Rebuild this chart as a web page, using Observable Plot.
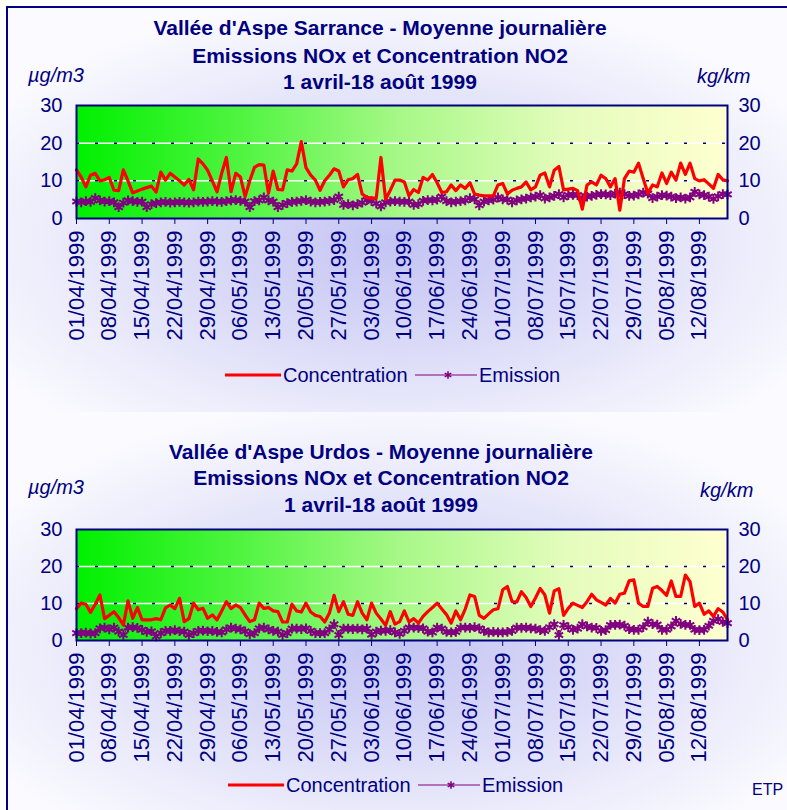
<!DOCTYPE html>
<html><head><meta charset="utf-8">
<script src="https://cdn.jsdelivr.net/npm/d3@7"></script>
<script src="https://cdn.jsdelivr.net/npm/@observablehq/plot@0.6"></script>
<style>
body{margin:0;background:#fff;}
#page{position:relative;width:787px;height:810px;overflow:hidden;font-family:"Liberation Sans",Arial,sans-serif;color:#000080;background:#fff;}
.bg{position:absolute;left:7px;width:780px;}
.frame{position:absolute;left:6px;top:6px;width:800px;height:820px;border-left:2px solid #000080;border-top:2px solid #000080;box-sizing:border-box;}
.plotwrap{position:absolute;left:0;width:787px;}
.t{position:absolute;white-space:nowrap;transform:translate(-50%,-50%);}
.title{font-weight:bold;font-size:21px;}
.unit{font-style:italic;font-size:20px;transform:translate(0,-50%);}
.leg{font-size:20px;transform:translate(0,-50%);}
</style></head>
<body>
<svg width="0" height="0" style="position:absolute">
  <defs>
    <linearGradient id="plotGrad" x1="0" x2="1" y1="0" y2="0">
      <stop offset="0" stop-color="#00f000"/>
      <stop offset="0.25" stop-color="#50f440"/>
      <stop offset="0.5" stop-color="#a8f888"/>
      <stop offset="0.75" stop-color="#e4fcbc"/>
      <stop offset="1" stop-color="#ffffd0"/>
    </linearGradient>
  </defs>
</svg>
<div id="page">
  <div class="bg" style="top:7px;height:405px;background:radial-gradient(ellipse 62% 62% at 50% 58%, #c4c4f4 0%, #d6d6f7 35%, #ebebfb 70%, #fbfbff 100%);"></div>
  <div class="bg" style="top:412px;height:398px;background:radial-gradient(ellipse 62% 62% at 50% 58%, #c4c4f4 0%, #d6d6f7 35%, #ebebfb 70%, #fbfbff 100%);"></div>
  <div class="frame"></div>
  <div id="top" class="plotwrap" style="top:0px"></div>
  <div id="bottom" class="plotwrap" style="top:410px"></div>
</div>
<script>
// ---- data ----
const firstDay = "01/04/1999";
const dayCount = 140;
const tickLabels = ["01/04/1999","08/04/1999","15/04/1999","22/04/1999","29/04/1999","06/05/1999","13/05/1999",
  "20/05/1999","27/05/1999","03/06/1999","10/06/1999","17/06/1999","24/06/1999","01/07/1999","08/07/1999",
  "15/07/1999","22/07/1999","29/07/1999","05/08/1999","12/08/1999"];
const yTicks = [0, 10, 20, 30];
const gridValues = [10, 20];

const topTitle = ["Vallée d'Aspe Sarrance - Moyenne journalière", "Emissions NOx et Concentration NO2", "1 avril-18 août 1999"];
const bottomTitle = ["Vallée d'Aspe Urdos - Moyenne journalière", "Emissions NOx et Concentration NO2", "1 avril-18 août 1999"];
const leftUnit = "µg/m3";
const rightUnit = "kg/km";
const seriesNames = ["Concentration", "Emission"];

// Sarrance
const topConcentration = [
 12.9,11,8.4,11.5,12,10,10.3,10.9,7.5,7.4,
 12.9,10,6.8,7.3,7.8,8.2,8.6,7,12.3,10.2,
 12,11,10,8.9,10.4,7.6,15.8,14.5,12.8,10,
 7.1,12,16.2,7.1,12,11,5.8,10,13.6,14.3,
 14.2,6.7,12.6,7.7,7.6,12.9,12.6,14.5,20.4,13.5,
 11.5,10.2,7.5,10,11.5,13.2,12.6,8.4,10.3,10.6,
 11.7,6.5,5.6,5.4,5.4,16.2,5.1,7.5,10.2,10.2,
 9.7,6,7.7,6.9,10.9,10.2,11.7,9.5,6.9,7.1,
 8.9,7.4,8.9,8,9.5,6.5,6.2,6,6,6,
 8.9,9.3,6.5,7.5,8,8.4,9.7,7.6,8.4,11.5,
 12.1,8.4,12.8,13.8,7.6,7.8,8,7.4,2.5,8.9,
 9.7,8.9,11.5,10.6,8.4,10.6,2.2,10.6,12.6,12.3,
 14.7,10.6,6.7,8.9,8.4,12.1,9.3,12.3,10.2,14.7,
 11.7,14.7,10.6,10,10.3,9.2,8,11.7,10.3,10];
const topEmission = [
 4.5,4.3,4.6,4.4,5.4,4.8,4.5,4.6,4.3,3.0,
 4.2,4.8,4.6,4.4,4.5,3.0,3.8,4.1,4.3,4.4,
 4.2,4.3,4.4,4.3,4.2,4.3,4.5,4.4,4.5,4.6,
 4.5,4.4,4.6,4.8,4.9,4.7,4.5,3.0,4.6,4.8,
 5.6,4.8,4.5,3.0,3.6,4.1,4.4,4.5,4.7,4.9,
 4.5,4.3,4.4,4.5,4.7,4.9,5.8,3.6,3.8,3.5,
 3.8,4.2,4.9,4.6,4.0,3.2,4.3,4.5,4.6,4.5,
 4.4,4.5,3.6,3.8,4.7,4.9,4.8,5.0,5.8,4.6,
 4.3,4.5,4.6,4.8,5.4,5.1,3.5,4.5,4.8,5.0,
 5.6,5.1,5.0,4.3,4.8,5.1,5.3,5.6,5.8,6.2,
 5.3,5.6,6.0,6.5,5.6,6.2,6.3,6.2,5.4,5.8,
 6.0,6.3,6.5,6.4,6.2,6.6,6.9,6.5,6.0,6.1,
 6.4,6.9,6.6,5.4,5.8,6.2,6.1,5.8,5.4,5.6,
 5.3,5.6,7.1,6.4,6.2,5.8,5.2,5.9,6.5,6.4];

// Urdos
const bottomConcentration = [
 8.6,10.1,9.8,7.6,9.8,12.3,5.9,6.8,7.8,6.2,
 4.2,10.7,6,8.9,5.6,5.6,5.6,5.9,5.6,8.8,
 9.6,8.6,11.4,5.1,5.9,10.1,8.3,8.7,6,6.9,
 5.6,8,10.5,8.6,9.6,8.9,6.9,5.1,5.6,10.1,
 8.7,8.9,8,7.8,5,5,9.8,8,7.7,10.1,
 7.7,6.8,6.5,5,7.4,12.2,7.8,10.5,7.1,6.8,
 10.5,7.4,5.6,10.1,7.4,5.8,4.1,7.8,4.4,5.1,
 8,5,5.9,4.7,6.5,7.8,8.9,10.1,8.5,7,
 4.7,8,5.6,8.5,12.3,11.9,6.8,6,7.2,8.3,
 8.6,13.7,14.6,10.5,10.4,13.2,11.6,9.2,11.5,14.1,
 12.3,7.4,13.4,14,6.8,8.7,10.1,9.5,8.9,10.5,
 12.5,11,10.3,9.6,11.4,10.1,12.5,12.8,16.1,16.4,
 10.1,9.2,9.2,14.1,14.6,13.5,12.2,16.1,11.9,11.9,
 17.7,15.9,9.2,10.1,7.1,8,6.5,8.6,7.7,5.6];
const bottomEmission = [
 2.0,2.0,2.1,1.9,2.0,3.3,3.5,3.0,3.5,2.4,
 1.5,3.5,3.6,3.4,2.9,2.3,2.5,1.1,2.0,2.6,
 2.6,2.8,2.5,2.4,1.5,2.0,2.6,2.7,2.5,2.6,
 2.3,2.2,3.0,3.5,3.2,3.0,2.5,1.7,2.0,3.3,
 3.5,3.0,2.6,2.4,1.5,2.0,3.2,3.2,3.1,3.3,
 2.6,2.0,2.0,2.0,3.0,4.4,1.5,3.2,3.2,3.1,
 3.2,3.0,3.2,1.6,2.4,2.7,2.6,2.8,2.2,1.8,
 2.6,3.5,3.5,3.4,3.3,2.4,2.2,3.5,3.2,2.3,
 2.2,2.3,3.5,3.5,3.4,3.6,3.3,2.6,2.2,2.3,
 2.2,2.2,2.3,2.6,3.5,3.4,3.5,3.3,3.2,2.8,
 2.6,3.6,4.4,1.5,4.2,3.6,2.9,3.2,4.4,3.8,
 3.5,3.4,2.6,2.8,4.2,4.2,4.3,4.0,3.1,2.9,
 2.9,3.6,5.1,4.4,4.3,2.9,2.9,3.8,5.3,4.5,
 4.2,4.2,2.9,2.8,2.9,4.0,5.3,5.8,5.0,4.7];

// ---- build ----
const parse = d3.utcParse("%d/%m/%Y");
const fmt = d3.utcFormat("%d/%m/%Y");
const start = parse(firstDay);
const dates = d3.range(dayCount).map(i => d3.utcDay.offset(start, i));
const tickDates = tickLabels.map(parse);
const navy = "#000080";

function chart(conc, emis, height, mt, mb) {
  const data = dates.map((d, i) => ({date: d, conc: conc[i], emis: emis[i]}));
  return Plot.plot({
    width: 787, height,
    marginLeft: 76, marginRight: 60, marginTop: mt, marginBottom: mb,
    style: {background: "transparent", fontFamily: "'Liberation Sans', Arial, sans-serif", fontSize: "20px", color: navy, overflow: "visible"},
    x: {type: "utc", domain: [dates[0], dates[dates.length - 1]]},
    y: {domain: [0, 30]},
    marks: [
      Plot.frame({fill: "url(#plotGrad)"}),
      Plot.ruleY(gridValues, {stroke: "#ffffff", strokeWidth: 1.5}),
      Plot.ruleY(gridValues, {stroke: navy, strokeWidth: 1.5, strokeDasharray: "3,16"}),
      Plot.line(data, {x: "date", y: "emis", stroke: "#800080", strokeWidth: 1.2}),
      Plot.dot(data, {x: "date", y: "emis", symbol: "asterisk", r: 4.6, stroke: "#800080", strokeWidth: 2}),
      Plot.line(data, {x: "date", y: "conc", stroke: "#ff0000", strokeWidth: 3.2}),
      Plot.frame({stroke: navy, strokeWidth: 2}),
      Plot.axisX({ticks: tickDates, tickFormat: fmt, tickRotate: -90, tickSize: 6, tickPadding: 6, label: null, fontSize: 22}),
      Plot.axisY({anchor: "left", ticks: yTicks, tickSize: 0, tickPadding: 14, label: null}),
      Plot.axisY({anchor: "right", ticks: yTicks, tickSize: 0, tickPadding: 11, label: null})
    ]
  });
}

document.getElementById("top").append(chart(topConcentration, topEmission, 410, 105, 192));
document.getElementById("bottom").append(chart(bottomConcentration, bottomEmission, 400, 119, 170));

const page = document.getElementById("page");
function addText(txt, cls, x, y) {
  const d = document.createElement("div");
  d.className = "t " + cls;
  d.style.left = x + "px"; d.style.top = y + "px";
  d.textContent = txt;
  page.append(d);
  return d;
}
// titles
[28, 56, 82].forEach((y, i) => addText(topTitle[i], "title", 380, y));
[452, 478, 505].forEach((y, i) => addText(bottomTitle[i], "title", 381, y));
// units
addText(leftUnit, "unit", 28, 75);
addText(rightUnit, "unit", 697, 76);
addText(leftUnit, "unit", 28, 487);
addText(rightUnit, "unit", 700, 490);
// legends
function legend(y, x0) {
  const svg = d3.select(page).append("svg")
    .style("position", "absolute").style("left", "0px").style("top", (y - 10) + "px")
    .attr("width", 787).attr("height", 20);
  svg.append("line").attr("x1", x0).attr("x2", x0 + 56).attr("y1", 10).attr("y2", 10).attr("stroke", "#ff0000").attr("stroke-width", 3);
  const x1 = x0 + 190;
  svg.append("line").attr("x1", x1).attr("x2", x1 + 62).attr("y1", 10).attr("y2", 10).attr("stroke", "#800080").attr("stroke-width", 1.2);
  svg.append("path").attr("transform", `translate(${x1 + 33},10)`).attr("d", d3.symbol(d3.symbolAsterisk, 40)())
    .attr("stroke", "#800080").attr("stroke-width", 1.6).attr("fill", "none");
  addText(seriesNames[0], "leg", x0 + 58, y);
  addText(seriesNames[1], "leg", x1 + 64, y);
}
legend(375, 225);
legend(785, 228);
addText("ETP", "leg", 752, 790).style.fontSize = "16px";
</script>
</body></html>
